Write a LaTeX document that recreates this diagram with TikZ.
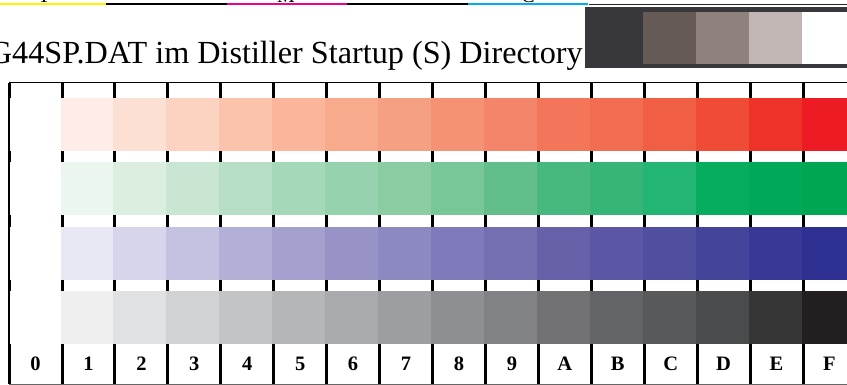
\documentclass[tikz,border=0pt]{standalone}
\usepackage{fontspec}
\setmainfont{Liberation Serif}
\definecolor{procyellow}{HTML}{FFF200}
\definecolor{procmagenta}{HTML}{EC008C}
\definecolor{proccyan}{HTML}{00AEEF}
\definecolor{darkbar}{HTML}{38373C}
\begin{document}
\begin{tikzpicture}[x=1pt,y=-1pt,
  tickline/.style={line width=3pt},
  frameline/.style={line width=1.5pt},
  collabel/.style={font=\fontsize{20.5}{24}\selectfont\bfseries,inner sep=0pt},
  sheettitle/.style={font=\fontsize{32.2}{38}\selectfont,inner sep=0pt},
  sepletter/.style={font=\fontsize{20}{24}\selectfont,inner sep=0pt,anchor=base}]
\useasboundingbox (0,0) rectangle (847,385);

\pgfmathsetmacro\colw{52.93}
\pgfmathsetmacro\rowh{64.3}

\foreach \c [count=\i from 0] in {procyellow,black,procmagenta,black,proccyan}
    \draw[line width=2pt,\c] ({-14.5+120.5*\i},4.3) -- ({106+120.5*\i},4.3);
\draw[line width=1.3pt,black!85] (589,4.3) -- (847,4.3);
\node[sepletter] (sepy) at (44,2.3) {Y};
\node[sepletter] (sepm) at (286,2.3) {M};
\node[sepletter] (sepc) at (528,2.3) {C};

\node[sheettitle,anchor=base east] (title) at (583,64) {G44SP.DAT im Distiller Startup (S) Directory};

\fill[darkbar] (585,7.5) rectangle (847,68.3);
\foreach \c [count=\i from 0] in {665A56,8E817E,C0B7B4,FFFFFF} {
    \definecolor{swatch}{HTML}{\c}
    \fill[swatch] ({643+\colw*\i},12.3) rectangle ({643+\colw*(\i+1)},64.3);
}

\draw[frameline] (9,82.7) -- (847,82.7);
\draw[line width=1.2pt] (9,82.7) -- (9,384);
\draw[line width=1pt,black!60] (9,384) -- (847,384);
\foreach \ya/\yb in {82.7/98, 151/162.3, 215.3/226.6, 279.6/291, 344/384}
    \foreach \i in {0,...,15}
        \draw[tickline] ({9.07+\colw*\i},\ya) -- ({9.07+\colw*\i},\yb);

\foreach \r/\clist in {
    0/{FDEDE6,FDE0D4,FCD2C0,FBC3AC,FAB59B,F8AA8D,F6A083,F59174,F5856A,F3765A,F26C52,F05F43,F04B35,EE3229,ED1C24},
    1/{EBF6EE,DBEEDF,C9E6D3,B6DFC5,A5D8B9,96D2AE,8BCCA3,77C799,62BF8C,48B97E,37B577,22B573,06AD5F,00A859,00A651},
    2/{E8E8F4,D6D5EB,C4C2E1,B3B0D8,A5A1CF,9893C7,8C88C0,7F7BBB,736FB1,6761AA,5B57A5,504E9F,45449B,393897,2E3192},
    3/{EFEFEF,E0E1E2,D1D2D4,C3C4C6,B5B6B8,A9AAAD,9D9EA1,8E8F92,818286,727275,636467,58595B,4A4B4D,363637,231F20}}
    \foreach \c [count=\i] in \clist {
        \definecolor{patch}{HTML}{\c}
        \fill[patch] ({7.57+\colw*\i},{98+\rowh*\r}) rectangle ({7.57+\colw*(\i+1)},{151+\rowh*\r});
    }

\foreach \lab [count=\i from 0] in {0,1,2,3,4,5,6,7,8,9,A,B,C,D,E,F}
    \node[collabel] (lab\lab) at ({9.07+\colw*(\i+.5)},363.5) {\lab};

\end{tikzpicture}
\end{document}
